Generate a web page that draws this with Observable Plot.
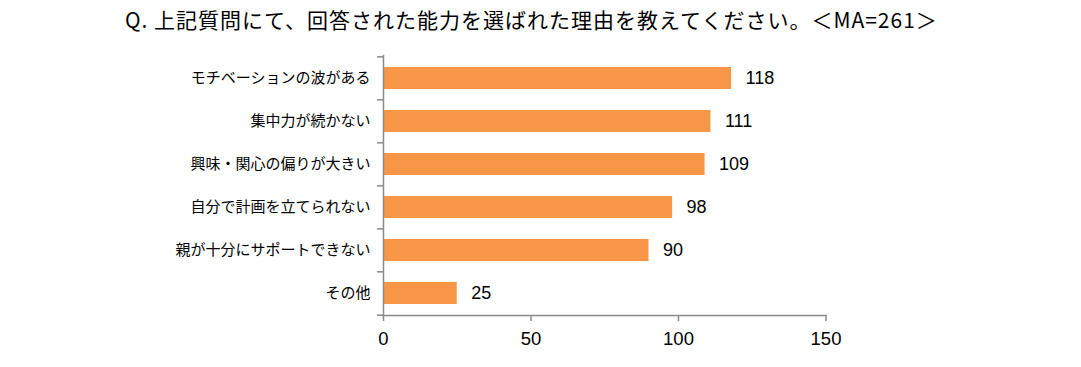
<!DOCTYPE html>
<html>
<head>
<meta charset="utf-8">
<script src="https://cdn.jsdelivr.net/npm/d3@7"></script>
<script src="https://cdn.jsdelivr.net/npm/@observablehq/plot@0.6"></script>
<style>
  body { margin: 0; background: #fff; width: 1081px; height: 367px; overflow: hidden; }
  #title { height: 38px; position: relative; }
  #title span { position: absolute; left: 125px; top: 5px; font-family: "Noto Sans CJK JP", sans-serif; font-size: 21px; letter-spacing: 1px; line-height: 28px; color: #000; white-space: nowrap; }
  #chart svg { display: block; }
</style>
</head>
<body>
<div id="title"><span>Q. 上記質問にて、回答された能力を選ばれた理由を教えてください。＜MA=261＞</span></div>
<div id="chart"></div>
<script>
const categories = ["モチベーションの波がある", "集中力が続かない", "興味・関心の偏りが大きい", "自分で計画を立てられない", "親が十分にサポートできない", "その他"];
const values = [118, 111, 109, 98, 90, 25];
const xTicks = [0, 50, 100, 150];

const data = categories.map((c, i) => ({category: c, value: values[i]}));
const axisColor = "#8a8a8a";
const step = 260 / categories.length;

const chart = Plot.plot({
  width: 1081,
  height: 329,
  marginTop: 17,
  marginBottom: 52,
  marginLeft: 383,
  marginRight: 255.5,
  style: {fontFamily: "'Liberation Sans', Arial, sans-serif", color: "#000", background: "#fff"},
  x: {domain: [0, 150], ticks: xTicks, label: null},
  y: {domain: categories, paddingInner: 0.5, paddingOuter: 0.25, label: null},
  marks: [
    Plot.barX(data, {x: "value", y: "category", fill: "#f79646"}),
    Plot.text(data, {x: "value", y: "category", text: d => String(d.value), textAnchor: "start", dx: 14, fontSize: 18, fill: "#000"}),
    Plot.frame({anchor: "left", stroke: axisColor, strokeWidth: 1.5}),
    Plot.frame({anchor: "bottom", stroke: axisColor, strokeWidth: 1.5}),
    Plot.axisY({tickSize: 0, tickPadding: 13, fontSize: 15, fontFamily: "'Noto Sans CJK JP', sans-serif", fill: "#000", label: null}),
    Plot.axisY({text: null, tickSize: 6, dy: -step / 2, stroke: axisColor, strokeWidth: 1.5}),
    Plot.axisY([categories[categories.length - 1]], {text: null, tickSize: 6, dy: step / 2, stroke: axisColor, strokeWidth: 1.5}),
    Plot.axisX({ticks: xTicks, tickSize: 6, tickPadding: 10, fontSize: 18.5, stroke: axisColor, strokeWidth: 1.5, fill: "#000", label: null})
  ]
});
document.getElementById("chart").appendChild(chart);
</script>
</body>
</html>
